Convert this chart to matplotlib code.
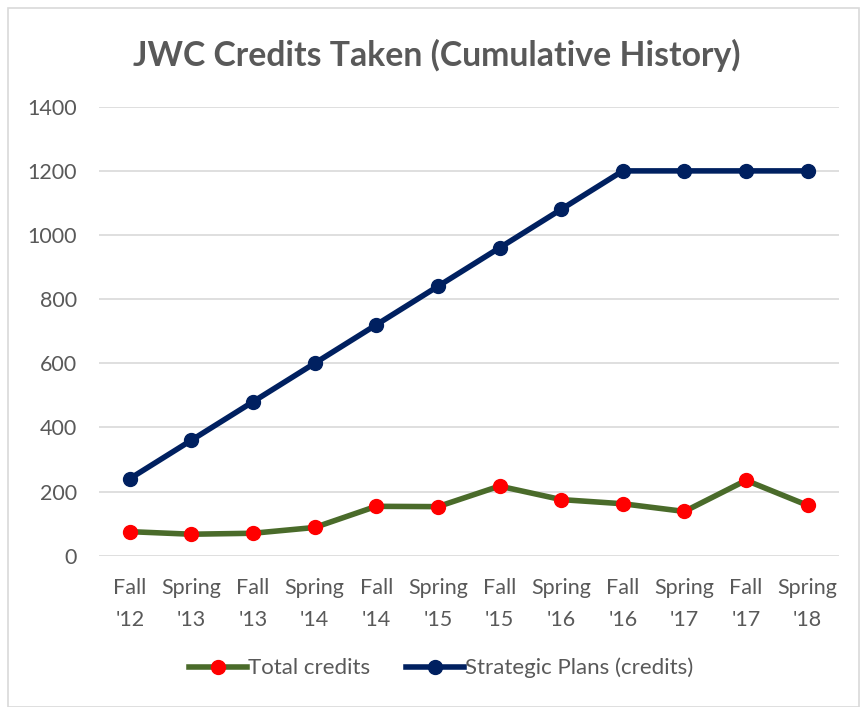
import matplotlib.pyplot as plt
from matplotlib.patches import Rectangle

categories = ["Fall\n'12", "Spring\n'13", "Fall\n'13", "Spring\n'14", "Fall\n'14", "Spring\n'15",
              "Fall\n'15", "Spring\n'16", "Fall\n'16", "Spring\n'17", "Fall\n'17", "Spring\n'18"]
total_credits = [75, 67, 70, 88, 154, 153, 217, 175, 162, 138, 235, 157]
strategic_plans = [240, 360, 480, 600, 720, 840, 960, 1080, 1200, 1200, 1200, 1200]

plt.rcParams["font.family"] = ["Lato", "DejaVu Sans"]
TEXT = "#595959"

fig = plt.figure(figsize=(8.6, 7.07), dpi=100)
ax = fig.add_axes([0.115, 0.214, 0.86, 0.635])

x = range(len(categories))
ax.plot(x, total_credits, color="#4a6b2a", lw=4, marker="o", ms=10,
        mfc="#ff0000", mec="#ff0000", label="Total credits", zorder=3)
ax.plot(x, strategic_plans, color="#002060", lw=4, marker="o", ms=10,
        mfc="#002060", mec="#002060", label="Strategic Plans (credits)", zorder=3)

ax.set_xlim(-0.5, len(categories) - 0.5)
ax.set_ylim(0, 1400)
ax.set_yticks(range(0, 1401, 200))
ax.set_xticks(list(x))
ax.set_xticklabels(categories, linespacing=1.75)
ax.tick_params(axis="both", length=0, labelsize=15.5, colors=TEXT)
ax.tick_params(axis="x", pad=16)
ax.tick_params(axis="y", pad=16)
ax.grid(axis="y", color="#d9d9d9", lw=1.2)
ax.set_axisbelow(True)
for s in ax.spines.values():
    s.set_visible(False)

fig.text(0.508, 0.922, "JWC Credits Taken (Cumulative History)", ha="center", va="center",
         fontsize=24.3, fontweight="bold", color=TEXT)

fig.legend(loc="center", bbox_to_anchor=(0.513, 0.055), ncol=2, frameon=False,
           fontsize=16, labelcolor=TEXT, handlelength=2.6, handletextpad=0.05,
           columnspacing=1.6)

fig.patches.append(Rectangle((0.009, 0.0), 0.99, 0.989, transform=fig.transFigure,
                             fill=False, edgecolor="#d9d9d9", lw=1.2))

fig.savefig("out.png", dpi=100)
